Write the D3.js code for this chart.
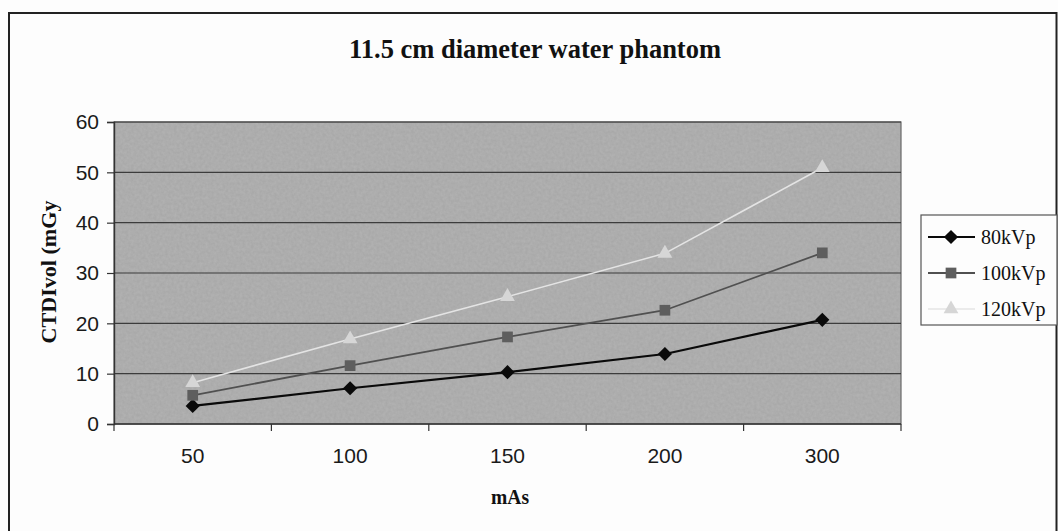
<!DOCTYPE html>
<html>
<head>
<meta charset="utf-8">
<script src="https://cdn.jsdelivr.net/npm/d3@7/dist/d3.min.js"></script>
<style>
  html, body { margin: 0; padding: 0; background: #fdfdfd; }
  svg { display: block; }
</style>
</head>
<body>
<svg id="chart" width="1058" height="531"></svg>
<script>
// mAs settings on the x axis
const categories = ["50", "100", "150", "200", "300"];
// CTDIvol (mGy) per tube voltage
const series80 = [3.6, 7.1, 10.3, 13.9, 20.7];
const series100 = [5.7, 11.6, 17.3, 22.6, 34.0];
const series120 = [8.2, 16.9, 25.3, 33.9, 50.9];
const seriesNames = ["80kVp", "100kVp", "120kVp"];
const yTicks = [0, 10, 20, 30, 40, 50, 60];

// square diamond (equal width and height), as spreadsheet charts draw it
const squareDiamond = {
  draw(context, size) {
    const r = Math.sqrt(size / 2);
    context.moveTo(0, -r);
    context.lineTo(r, 0);
    context.lineTo(0, r);
    context.lineTo(-r, 0);
    context.closePath();
  }
};

const series = [
  { name: seriesNames[0], values: series80, line: "#0a0a0a", fill: "#0a0a0a", width: 2.2, symbol: squareDiamond, size: 100 },
  { name: seriesNames[1], values: series100, line: "#505050", fill: "#5e5e5e", width: 1.8, symbol: d3.symbolSquare, size: 115 },
  { name: seriesNames[2], values: series120, line: "#e4e4e4", fill: "#d6d6d6", width: 1.6, symbol: d3.symbolTriangle, size: 95 }
];

const svg = d3.select("#chart");
const plot = { left: 114, right: 901, top: 122, bottom: 424 };

// light grain for the plot fill
const defs = svg.append("defs");
const grain = defs.append("filter").attr("id", "grain")
  .attr("x", 0).attr("y", 0).attr("width", "100%").attr("height", "100%");
grain.append("feTurbulence")
  .attr("type", "fractalNoise").attr("baseFrequency", 0.35).attr("numOctaves", 2).attr("seed", 3)
  .attr("result", "noise");
grain.append("feColorMatrix").attr("in", "noise").attr("type", "matrix")
  .attr("values", "0 0 0 0 0  0 0 0 0 0  0 0 0 0 0  0 0 0 0.16 0")
  .attr("result", "dots");
grain.append("feComposite").attr("in", "dots").attr("in2", "SourceGraphic").attr("operator", "in")
  .attr("result", "clipped");
const merge = grain.append("feMerge");
merge.append("feMergeNode").attr("in", "SourceGraphic");
merge.append("feMergeNode").attr("in", "clipped");

// outer chart frame
svg.append("rect")
  .attr("x", 9).attr("y", 13).attr("width", 1047.5).attr("height", 540)
  .attr("fill", "#fdfdfd").attr("stroke", "#222").attr("stroke-width", 2);

const x = d3.scaleBand().domain(categories).range([plot.left, plot.right]).padding(0);
const y = d3.scaleLinear().domain([0, 60]).range([plot.bottom, plot.top]);

// plot area
svg.append("rect")
  .attr("x", plot.left).attr("y", plot.top)
  .attr("width", plot.right - plot.left).attr("height", plot.bottom - plot.top)
  .attr("fill", "#b4b4b4").attr("filter", "url(#grain)");
svg.append("rect")
  .attr("x", plot.left).attr("y", plot.top)
  .attr("width", plot.right - plot.left).attr("height", plot.bottom - plot.top)
  .attr("fill", "none").attr("stroke", "#6a6a6a").attr("stroke-width", 1.2);

// horizontal gridlines
svg.append("g")
  .selectAll("line")
  .data(yTicks.filter(d => d > 0))
  .join("line")
  .attr("x1", plot.left).attr("x2", plot.right)
  .attr("y1", d => y(d)).attr("y2", d => y(d))
  .attr("stroke", "#3c3c3c").attr("stroke-width", 1.2);

// y axis
const yAxis = svg.append("g")
  .attr("transform", `translate(${plot.left},0)`)
  .call(d3.axisLeft(y).tickValues(yTicks).tickSize(7).tickPadding(8));
yAxis.select(".domain").attr("stroke", "#333").attr("stroke-width", 1.4);
yAxis.selectAll(".tick line").attr("stroke", "#333").attr("stroke-width", 1.2);
yAxis.selectAll(".tick text")
  .attr("font-family", "'Liberation Sans', Arial, sans-serif")
  .attr("font-size", 21).attr("fill", "#1a1a1a");

// x axis: ticks sit on the category boundaries
const xAxis = svg.append("g")
  .attr("transform", `translate(0,${plot.bottom})`);
xAxis.append("line")
  .attr("x1", plot.left).attr("x2", plot.right)
  .attr("stroke", "#333").attr("stroke-width", 1.4);
const edges = categories.map(c => x(c)).concat([x(categories[categories.length - 1]) + x.bandwidth()]);
xAxis.selectAll("line.tk")
  .data(edges)
  .join("line").attr("class", "tk")
  .attr("x1", d => d).attr("x2", d => d)
  .attr("y1", 0).attr("y2", 7)
  .attr("stroke", "#333").attr("stroke-width", 1.2);
xAxis.selectAll("text")
  .data(categories)
  .join("text")
  .attr("x", d => x(d) + x.bandwidth() / 2)
  .attr("y", 39)
  .attr("text-anchor", "middle")
  .attr("font-family", "'Liberation Sans', Arial, sans-serif")
  .attr("font-size", 21).attr("fill", "#1a1a1a")
  .text(d => d);

// series lines and markers
const line = d3.line()
  .x((d, i) => x(categories[i]) + x.bandwidth() / 2)
  .y(d => y(d));

series.forEach(s => {
  svg.append("path")
    .datum(s.values)
    .attr("d", line)
    .attr("fill", "none")
    .attr("stroke", s.line)
    .attr("stroke-width", s.width);
});
series.forEach(s => {
  svg.append("g")
    .selectAll("path")
    .data(s.values)
    .join("path")
    .attr("transform", (d, i) => `translate(${x(categories[i]) + x.bandwidth() / 2},${y(d)})`)
    .attr("d", d3.symbol().type(s.symbol).size(s.size))
    .attr("fill", s.fill);
});

// title
svg.append("text")
  .attr("x", 535).attr("y", 58)
  .attr("text-anchor", "middle")
  .attr("font-family", "'Liberation Serif', 'Times New Roman', serif")
  .attr("font-weight", "bold").attr("font-size", 27)
  .attr("textLength", 372).attr("lengthAdjust", "spacingAndGlyphs")
  .attr("fill", "#111")
  .text("11.5 cm diameter water phantom");

// axis titles
svg.append("text")
  .attr("transform", "translate(56,272) rotate(-90)")
  .attr("text-anchor", "middle")
  .attr("font-family", "'Liberation Serif', 'Times New Roman', serif")
  .attr("font-weight", "bold").attr("font-size", 21)
  .attr("textLength", 143).attr("lengthAdjust", "spacingAndGlyphs")
  .attr("fill", "#111")
  .text("CTDIvol (mGy");

svg.append("text")
  .attr("x", 510).attr("y", 504)
  .attr("text-anchor", "middle")
  .attr("font-family", "'Liberation Serif', 'Times New Roman', serif")
  .attr("font-weight", "bold").attr("font-size", 21)
  .attr("textLength", 38).attr("lengthAdjust", "spacingAndGlyphs")
  .attr("fill", "#111")
  .text("mAs");

// legend
const legend = svg.append("g");
legend.append("rect")
  .attr("x", 921).attr("y", 215).attr("width", 136).attr("height", 110)
  .attr("fill", "#fdfdfd").attr("stroke", "#555").attr("stroke-width", 1.2);
const legendY = d3.scalePoint().domain(seriesNames).range([237, 309]);
series.forEach(s => {
  const g = legend.append("g").attr("transform", `translate(0,${legendY(s.name)})`);
  g.append("line")
    .attr("x1", 928).attr("x2", 975)
    .attr("stroke", s.line).attr("stroke-width", s.width);
  g.append("path")
    .attr("transform", "translate(951,0)")
    .attr("d", d3.symbol().type(s.symbol).size(s.size))
    .attr("fill", s.fill);
  g.append("text")
    .attr("x", 981).attr("y", 7)
    .attr("font-family", "'Liberation Serif', 'Times New Roman', serif")
    .attr("font-size", 20).attr("fill", "#111")
    .text(s.name);
});
</script>
</body>
</html>
